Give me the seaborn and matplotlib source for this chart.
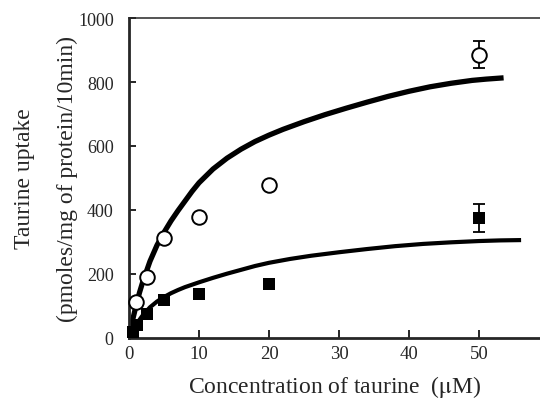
import pandas as pd
import numpy as np
import matplotlib
matplotlib.use("Agg")
import matplotlib.pyplot as plt
import seaborn as sns

conc_open = [1, 2.5, 5, 10, 20, 50]
uptake_open = [112, 190, 312, 379, 479, 885]
conc_closed = [0.5, 1.2, 2.5, 5, 10, 20, 50]
uptake_closed = [20, 40, 75, 119, 137, 169, 375]
err_x = [50]
err_open = [42]
err_closed = [45]
err_open_y = [885]
err_closed_y = [375]

# fitted curves
fit_open_x = [0, 0.5, 1, 1.5, 2, 3, 4, 5, 6, 7, 8, 9, 10, 12, 14, 16, 18, 20,
              22, 25, 28, 31, 34, 37, 40, 43, 46, 49, 51, 53.5]
fit_open_y = [0, 55, 100, 142, 178, 240, 290, 330, 366, 398, 428, 458, 485, 528,
              562, 590, 614, 634, 652, 676, 698, 718, 737, 755, 771, 785, 796, 805, 809, 813]
fit_closed_x = [0, 0.5, 1, 2, 3, 4, 5, 6, 7, 8, 10, 12, 14, 16, 18, 20, 23, 26,
                30, 34, 38, 42, 46, 50, 53, 56]
fit_closed_y = [0, 22, 42, 72, 96, 114, 128, 140, 150, 159, 174, 188, 201, 213,
                225, 235, 247, 257, 268, 278, 287, 294, 299, 303, 305, 306]

sns.set_style("ticks")
plt.rcParams['font.family'] = ['Liberation Serif', 'DejaVu Serif']
plt.rcParams['mathtext.fontset'] = 'stix'

fig = plt.figure(figsize=(5.4, 4.02), dpi=100)
ax = fig.add_axes([129 / 540, 1 - 339 / 402, 411 / 540, 320 / 402])

df_open = pd.DataFrame({'x': fit_open_x, 'y': fit_open_y})
df_closed = pd.DataFrame({'x': fit_closed_x, 'y': fit_closed_y})
sns.lineplot(data=df_open, x='x', y='y', ax=ax, color='black', lw=3.8,
             sort=False, estimator=None, solid_capstyle='butt',
             solid_joinstyle='round', zorder=2)
sns.lineplot(data=df_closed, x='x', y='y', ax=ax, color='black', lw=3.0,
             sort=False, estimator=None, solid_capstyle='butt',
             solid_joinstyle='round', zorder=2)

ax.errorbar(err_x, err_open_y, yerr=err_open, fmt='none', ecolor='black',
            elinewidth=1.3, capsize=4, capthick=1.3, zorder=3)
ax.errorbar(err_x, err_closed_y, yerr=err_closed, fmt='none', ecolor='black',
            elinewidth=1.3, capsize=4, capthick=1.3, zorder=3)

sns.scatterplot(x=conc_closed, y=uptake_closed, ax=ax, marker='s', s=80,
                color='black', edgecolor='black', linewidth=0, zorder=4, clip_on=False)
sns.scatterplot(x=conc_open, y=uptake_open, ax=ax, marker='o', s=110,
                facecolor='white', edgecolor='black', linewidth=1.4, zorder=5, clip_on=False)

ax.set_xlim(0, 58.7)
ax.set_ylim(0, 1000)
ax.set_xticks([0, 10, 20, 30, 40, 50])
ax.set_yticks([0, 200, 400, 600, 800, 1000])

ax.spines['right'].set_visible(False)
ax.spines['top'].set_linewidth(1.1)
ax.spines['left'].set_linewidth(2.0)
ax.spines['bottom'].set_linewidth(2.0)
ax.tick_params(axis='x', direction='in', length=6, width=1.4, pad=5, labelsize=13.5)
ax.tick_params(axis='y', direction='in', length=5, width=1.4, pad=11, labelsize=13)

ax.set_xlabel('Concentration of taurine  ($\\mathrm{\\mu}$M)', fontsize=17, labelpad=8)
ax.set_ylabel('Taurine uptake\n(pmoles/mg of protein/10min)', fontsize=17,
              linespacing=2.35, labelpad=0)

fig.savefig('out.png', dpi=100)
